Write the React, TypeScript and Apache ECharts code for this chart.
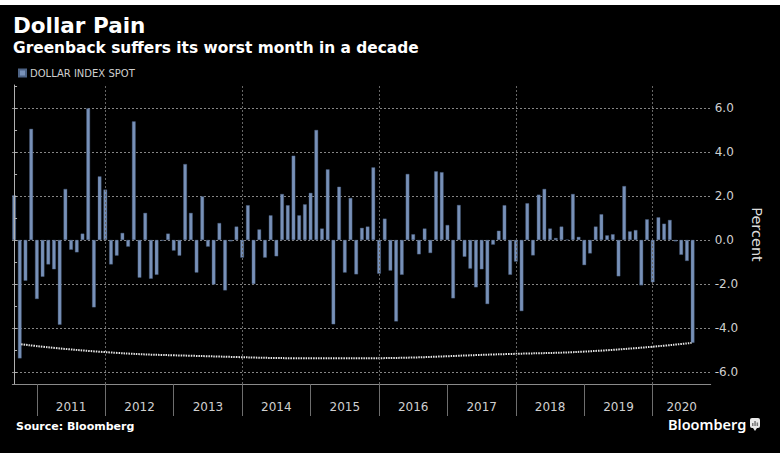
import React, { useEffect, useRef } from "react";
import * as echarts from "echarts";

// Monthly % change of the Dollar Index Spot, Aug 2010 .. Jul 2020 (bars plotted at month end)
const startYear = 2010;
const startMonth = 8; // August
const dollarIndexChange: number[] = [
  2.03, -5.38, -1.85, 5.05, -2.68,
  -1.67, -1.11, -1.33, -3.85, 2.32, -0.44, -0.56, 0.29, 5.98, -3.06, 2.89, 2.29,
  -1.11, -0.71, 0.32, -0.3, 5.39, -1.71, 1.23, -1.76, -1.58, -0.03, 0.29, -0.48,
  -0.71, 3.45, 1.23, -1.48, 1.98, -0.3, -2.02, 0.77, -2.29, -0.06, 0.61, -0.8,
  1.58, -2.0, 0.48, -0.8, 1.12, -0.74, 2.09, 1.58, 3.83, 1.12, 1.62, 2.14,
  5.0, 0.52, 3.21, -3.83, 2.42, -1.48, 1.91, -1.56, 0.55, 0.61, 3.3, -1.53,
  0.97, -1.39, -3.7, -1.58, 3.0, 0.26, -0.65, 0.52, -0.59, 3.12, 3.08, 0.68,
  -2.65, 1.59, -0.76, -1.3, -2.15, -1.33, -2.91, -0.21, 0.42, 1.58, -1.58, -0.98,
  -3.23, 1.67, -0.7, 2.06, 2.32, 0.52, 0.09, 0.61, 0.02, 2.09, 0.14, -1.14,
  -0.61, 0.61, 1.17, 0.21, 0.26, -1.65, 2.45, 0.39, 0.45, -2.06, 0.94, -1.92,
  1.03, 0.74, 0.91, -0.06, -0.67, -0.95, -4.67,
];

const yearLabels: string[] = ["2011", "2012", "2013", "2014", "2015", "2016", "2017", "2018", "2019", "2020"];
const yTickValues: number[] = [-6, -5, -4, -3, -2, -1, 0, 1, 2, 3, 4, 5, 6, 7];
const yLabelValues: number[] = [-6, -4, -2, 0, 2, 4, 6];
const gridYears: string[] = ["2012", "2014", "2016", "2018", "2020"];

// Annotation arc linking the Sep 2010 and Jul 2020 drops (month index, percent)
const arcMonthIdx: number[] = [1.25, 15.1, 30.9, 57.2, 87.0, 102.8, 118.8];
const arcPercent: number[] = [-4.74, -5.08, -5.26, -5.38, -5.18, -5.03, -4.68];

const X_MIN = -0.31;
const X_MAX = 122.17;
const Y_MIN = -6.545;
const Y_MAX = 7.045;

export default function App() {
  const ref = useRef<HTMLDivElement | null>(null);

  useEffect(() => {
    if (!ref.current) return;
    const chart = echarts.init(ref.current, null, { renderer: "svg" });

    const decIndex = (year: number) => (year - 1 - startYear) * 12 + (12 - startMonth);
    const boundaries = yearLabels.map((y) => decIndex(Number(y)));
    const labelPos = boundaries.map((b) => (b + Math.min(b + 12, X_MAX)) / 2);
    const gridBoundaries = gridYears.map((y) => decIndex(Number(y)));

    const font = "DejaVu Sans";
    const vGridStyle = { color: "#666666", type: [2, 2] as number[], width: 1 };
    const hGridStyle = { color: "#858585", type: [2, 2] as number[], width: 1 };

    const gTop = 85;
    const gBottom = 69;
    const pxPerUnit = (453 - gTop - gBottom) / (Y_MAX - Y_MIN);
    const gLo = yLabelValues[0];
    const gHi = yLabelValues[yLabelValues.length - 1];
    const g2Top = Math.round(gTop + (Y_MAX - gHi) * pxPerUnit);
    const g2Bottom = Math.round(gBottom + (gLo - Y_MIN) * pxPerUnit);

    const option: echarts.EChartsOption = {
      animation: false,
      backgroundColor: "#000000",
      textStyle: { fontFamily: font },
      grid: [
        { left: 12.3, right: 69.3, top: gTop, bottom: gBottom, containLabel: false },
        { left: 12, right: 69, top: g2Top, bottom: g2Bottom, containLabel: false },
      ],
      legend: {
        data: ["DOLLAR INDEX SPOT"],
        left: 18,
        top: 68,
        padding: 0,
        icon: "rect",
        itemWidth: 7,
        itemHeight: 7,
        textStyle: { color: "#cfcfcf", fontSize: 10, fontFamily: font, padding: [0, 0, 0, -1] },
        selectedMode: false,
      },
      xAxis: [
        {
          type: "value",
          gridIndex: 0,
          min: X_MIN,
          max: X_MAX,
          position: "bottom",
          axisLine: { show: true, onZero: false, lineStyle: { color: "#8a8a8a", width: 1 } },
          axisTick: {
            show: true,
            customValues: boundaries,
            length: 32,
            lineStyle: { color: "#6e6e6e", width: 1 },
          },
          axisLabel: {
            show: true,
            customValues: labelPos,
            color: "#d0d0d0",
            fontSize: 12,
            fontFamily: font,
            margin: 17,
            formatter: (v: number) => {
              const k = boundaries.findIndex((b, i) => v >= b && (i === boundaries.length - 1 || v < boundaries[i + 1]));
              return k >= 0 ? yearLabels[k] : "";
            },
          },
          splitLine: { show: false },
        },
        {
          type: "value",
          gridIndex: 1,
          min: 0,
          max: 1,
          axisLine: { show: false },
          axisTick: { show: false },
          axisLabel: { show: false },
          splitLine: { show: false },
        },
      ],
      yAxis: [
        {
          type: "value",
          gridIndex: 0,
          position: "right",
          min: Y_MIN,
          max: Y_MAX,
          name: "Percent",
          nameLocation: "middle",
          nameRotate: -90,
          nameGap: 34,
          nameTextStyle: { color: "#dcdcdc", fontSize: 14.5, fontFamily: font },
          axisLine: { show: true, lineStyle: { color: "#b0b0b0", width: 1 } },
          axisTick: {
            show: true,
            customValues: yTickValues,
            length: 3,
            lineStyle: { color: "#b0b0b0" },
          },
          axisLabel: {
            show: true,
            customValues: yLabelValues,
            color: "#d0d0d0",
            fontSize: 12,
            fontFamily: font,
            margin: 4,
            formatter: (v: number) => v.toFixed(1),
          },
          splitLine: { show: false },
          z: 5,
        },
        {
          type: "value",
          gridIndex: 1,
          position: "right",
          min: gLo,
          max: gHi,
          interval: 2,
          axisLine: { show: false },
          axisTick: { show: false },
          axisLabel: { show: false },
          splitLine: { show: true, showMinLine: true, showMaxLine: true, lineStyle: hGridStyle },
        },
      ],
      series: [
        {
          name: "gridHelper",
          type: "line",
          xAxisIndex: 1,
          yAxisIndex: 1,
          symbol: "none",
          silent: true,
          lineStyle: { opacity: 0 },
          data: [],
        },
        {
          name: "DOLLAR INDEX SPOT",
          type: "bar",
          xAxisIndex: 0,
          yAxisIndex: 0,
          barWidth: 3.6,
          itemStyle: { color: "#7891b8", borderColor: "#4d6385", borderWidth: 0.4 },
          data: dollarIndexChange.map((v, i) => [i, v]),
          markLine: {
            silent: true,
            symbol: "none",
            label: { show: false },
            lineStyle: vGridStyle,
            emphasis: { disabled: true },
            data: gridBoundaries.map((b) => ({ xAxis: b })),
          },
          z: 3,
        },
        {
          name: "arc",
          type: "line",
          xAxisIndex: 0,
          yAxisIndex: 0,
          smooth: 0.5,
          symbol: "none",
          silent: true,
          lineStyle: { color: "#e6e6e6", width: 2, type: [1.5, 1] },
          data: arcMonthIdx.map((x, i) => [x, arcPercent[i]]),
          z: 4,
        },
      ],
      graphic: [
        { type: "rect", left: 0, top: 0, shape: { width: 780, height: 5 }, style: { fill: "#ffffff" } },
        {
          type: "text",
          x: 13,
          y: 25.7,
          style: { text: "Dollar Pain", fill: "#ffffff", font: `bold 21.5px "${font}"`, verticalAlign: "middle" },
        },
        {
          type: "text",
          x: 13,
          y: 47.8,
          style: {
            text: "Greenback suffers its worst month in a decade",
            fill: "#ffffff",
            font: `bold 15.4px "${font}"`,
            verticalAlign: "middle",
          },
        },
        {
          type: "text",
          x: 16,
          y: 426,
          style: { text: "Source: Bloomberg", fill: "#ffffff", font: `bold 11px "${font}"`, verticalAlign: "middle" },
        },
        {
          type: "text",
          x: 668,
          y: 424,
          style: { text: "Bloomberg", fill: "#ffffff", font: `600 14.5px "Noto Sans"`, verticalAlign: "middle" },
        },
        { type: "rect", shape: { x: 750, y: 418, width: 10, height: 10, r: 2 }, style: { fill: "#e8e8e8" } },
        { type: "polygon", shape: { points: [[753, 428], [757, 428], [755, 431]] }, style: { fill: "#e8e8e8" } },
        { type: "rect", shape: { x: 752, y: 423, width: 1.5, height: 3 }, style: { fill: "#777" } },
        { type: "rect", shape: { x: 754.3, y: 421, width: 1.5, height: 5 }, style: { fill: "#777" } },
        { type: "rect", shape: { x: 756.6, y: 422.5, width: 1.5, height: 3.5 }, style: { fill: "#777" } },
      ],
    };

    chart.setOption(option);
    return () => chart.dispose();
  }, []);

  return (
    <div
      ref={ref}
      style={{ position: "fixed", left: 0, top: 0, width: 780, height: 453 }}
    />
  );
}
